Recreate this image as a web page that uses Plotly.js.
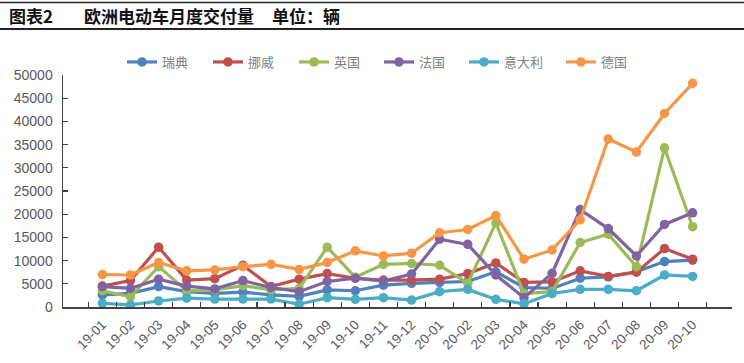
<!DOCTYPE html>
<html>
<head>
<meta charset="utf-8">
<script src="https://cdn.plot.ly/plotly-3.0.1.min.js"></script>
<style>html,body{margin:0;padding:0;background:#fff;}#chart{width:744px;height:363px;}</style>
</head>
<body>
<div id="chart"></div>
<script>
var months = ["19-01","19-02","19-03","19-04","19-05","19-06","19-07","19-08","19-09","19-10","19-11","19-12",
              "20-01","20-02","20-03","20-04","20-05","20-06","20-07","20-08","20-09","20-10"];
var sweden  = [2600,2950,4400,3300,2950,3200,2600,2300,3700,3500,4700,5100,5300,5500,7600,4200,4000,6200,6500,7600,9800,10100];
var norway  = [4500,5700,12900,5800,6100,9000,4400,6000,7200,6200,5800,5800,6000,7200,9500,5300,5400,7800,6600,7500,12600,10300];
var uk      = [3500,2200,8700,3500,3700,4600,3700,4000,12900,6400,9200,9400,9000,5100,18100,2900,3300,13900,15700,8700,34300,17300];
var france  = [4400,4000,6000,4500,3900,5700,4200,3300,5500,6200,5600,7100,14600,13500,6900,2000,7250,21000,16900,11000,17800,20300];
var italy   = [800,450,1300,1900,1700,1700,1700,600,2000,1650,2000,1500,3300,3800,1650,700,2900,3800,3800,3500,6900,6600];
var germany = [7000,6900,9600,7800,8000,8700,9200,8100,9600,12100,11000,11600,16000,16700,19700,10300,12300,18800,36200,33400,41700,48200];

var names  = ["瑞典","挪威","英国","法国","意大利","德国"];
var series = [sweden, norway, uk, france, italy, germany];
var colors = ["#4F81BD","#C0504D","#9BBB59","#8064A2","#4BACC6","#F79646"];
var legendWidths = [41, 41, 40, 40, 52, 41];

var L = 63, R = 732, T = 75, B = 307;
function px(x){ return (x - L) / (R - L); }
function py(y){ return (B - y) / (B - T); }

var traces = series.map(function(s, i){
  return {
    x: months, y: s, name: names[i], type: "scatter", mode: "lines+markers",
    line: {color: colors[i], width: 3.2},
    marker: {color: colors[i], size: 9.5, symbol: "circle"},
    legendwidth: legendWidths[i]
  };
});

var textFont = "Liberation Sans, Arial, Noto Sans CJK SC, sans-serif";
var cjk = "Noto Sans CJK SC, sans-serif";
var layout = {
  width: 744, height: 363,
  margin: {l: L, r: 744 - R, t: T, b: 363 - B, pad: 0},
  paper_bgcolor: "#fff", plot_bgcolor: "#fff",
  showlegend: true,
  legend: {
    orientation: "h", x: px(122), y: py(62), xanchor: "left", yanchor: "middle",
    font: {family: cjk, size: 13, color: "#7f7f7f"},
    itemwidth: 30, bgcolor: "rgba(0,0,0,0)"
  },
  xaxis: {
    type: "category", showgrid: false, zeroline: false,
    showline: true, linecolor: "#404040", linewidth: 1.5,
    ticks: "inside", tickson: "boundaries", ticklen: 5, tickcolor: "#404040", tickwidth: 1.2,
    tickangle: -45,
    tickfont: {family: textFont, size: 13.5, color: "#595959"},
    ticklabelstandoff: 3,
    fixedrange: true
  },
  yaxis: {
    range: [0, 50000], dtick: 5000, tickformat: "d",
    showgrid: false, zeroline: false,
    showline: true, linecolor: "#404040", linewidth: 1.5,
    ticks: "inside", ticklen: 5, tickcolor: "#404040", tickwidth: 1.2,
    tickfont: {family: textFont, size: 14, color: "#595959"},
    ticklabelstandoff: 6,
    fixedrange: true
  },
  shapes: [
    {type: "line", xref: "paper", yref: "paper", x0: px(0), x1: px(744), y0: py(2.5), y1: py(2.5), line: {color: "#222", width: 1.5}},
    {type: "line", xref: "paper", yref: "paper", x0: px(0), x1: px(744), y0: py(29), y1: py(29), line: {color: "#222", width: 2}}
  ],
  annotations: [
    {xref: "paper", yref: "paper", x: px(7), y: py(16), xanchor: "left", yanchor: "middle", showarrow: false,
     text: "<b>图表2</b>", font: {family: cjk, size: 17, color: "#111"}},
    {xref: "paper", yref: "paper", x: px(82), y: py(16), xanchor: "left", yanchor: "middle", showarrow: false,
     text: "<b>欧洲电动车月度交付量</b>", font: {family: cjk, size: 17, color: "#111"}},
    {xref: "paper", yref: "paper", x: px(270), y: py(16), xanchor: "left", yanchor: "middle", showarrow: false,
     text: "<b>单位：辆</b>", font: {family: cjk, size: 17, color: "#111"}}
  ]
};

Plotly.newPlot("chart", traces, layout, {displayModeBar: false, staticPlot: true});
</script>
</body>
</html>
